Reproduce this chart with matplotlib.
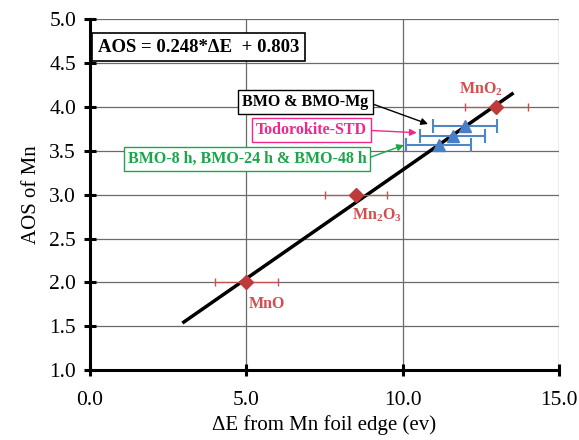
import matplotlib
matplotlib.use("Agg")
import matplotlib.pyplot as plt
import numpy as np

# Reference oxides
std_names = ["MnO", "Mn$_2$O$_3$", "MnO$_2$"]
std_dE = [5.0, 8.5, 13.0]
std_aos = [2.0, 3.0, 4.0]
std_xerr = [1.0, 1.0, 1.0]

# Samples (triangles)
smp_dE = [11.15, 11.6, 12.0]
smp_aos = [3.57, 3.67, 3.79]
smp_xerr = [1.03, 1.03, 1.03]

# Fit line
slope = 0.248
intercept = 0.803
fit_x = [3.0, 13.5]

xticks = [0.0, 5.0, 10.0, 15.0]
yticks = [1.0, 1.5, 2.0, 2.5, 3.0, 3.5, 4.0, 4.5, 5.0]

plt.rcParams['font.family'] = ['Liberation Serif', 'DejaVu Serif']
plt.rcParams['mathtext.fontset'] = 'custom'
plt.rcParams['mathtext.rm'] = 'Liberation Serif:bold'
plt.rcParams['mathtext.it'] = 'Liberation Serif:bold'
plt.rcParams['mathtext.bf'] = 'Liberation Serif:bold'

fig = plt.figure(figsize=(5.79, 4.40), dpi=100)
ax = fig.add_axes([90 / 579, 1 - 370 / 440, 469 / 579, 350.5 / 440])

ax.set_xlim(0, 15)
ax.set_ylim(1, 5)
ax.set_xticks(xticks)
ax.set_yticks(yticks)
ax.set_xticklabels([f"{v:.1f}" for v in xticks])
ax.set_yticklabels([f"{v:.1f}" for v in yticks])
ax.grid(True, color='#6a6a6a', lw=0.9)
ax.set_axisbelow(True)
for s in ['top', 'right']:
    ax.spines[s].set_visible(False)
for s in ['left', 'bottom']:
    ax.spines[s].set_linewidth(2.2)
    ax.spines[s].set_zorder(6)
ax.tick_params(direction='inout', length=8, width=2.2, labelsize=15.5)
ax.tick_params(axis='x', pad=11)
ax.tick_params(axis='y', pad=6)

fx = np.array(fit_x)
ax.plot(fx, slope * fx + intercept, color='black', lw=2.5, zorder=3)

red = '#C0393B'
ax.errorbar(std_dE, std_aos, xerr=std_xerr, fmt='D', color=red, ms=7,
            ecolor='#C8504F', elinewidth=0.9, capsize=3, zorder=4)
blue = '#4A7EC8'
ax.errorbar(smp_dE, smp_aos, xerr=smp_xerr, fmt='^', color=blue, ms=9,
            ecolor='#4F86C6', elinewidth=1.5, capsize=5, capthick=1.5, zorder=4)

lab_col = '#D0504F'
ax.text(5.08, 1.75, std_names[0], color=lab_col, fontsize=11.5, fontweight='bold',
        ha='left', va='center')
ax.text(8.38, 2.77, std_names[1], color=lab_col, fontsize=11.5, fontweight='bold',
        ha='left', va='center')
ax.text(11.81, 4.20, std_names[2], color=lab_col, fontsize=11.5, fontweight='bold',
        ha='left', va='center')

ax.set_xlabel("ΔE from Mn foil edge (ev)", fontsize=15, labelpad=4)
ax.set_ylabel("AOS of Mn", fontsize=15, labelpad=6)

# equation box
ax.text(0.25, 4.686, "AOS = 0.248*ΔE  + 0.803", fontsize=13.5, fontweight='bold',
        ha='left', va='center', zorder=5,
        bbox=dict(boxstyle='square,pad=0.3', fc='white', ec='black', lw=1.2))

ax.annotate("BMO & BMO-Mg", xy=(10.81, 3.807), xytext=(6.89, 4.053),
            fontsize=11.5, fontweight='bold', color='black', ha='center', va='center',
            bbox=dict(boxstyle='square,pad=0.25', fc='white', ec='black', lw=1.0),
            arrowprops=dict(arrowstyle='-|>', color='black', lw=1.0, relpos=(1, 0.5),
                            shrinkA=0, shrinkB=0, mutation_scale=10), zorder=5)
ax.annotate("Todorokite-STD", xy=(10.45, 3.708), xytext=(7.09, 3.736),
            fontsize=11.5, fontweight='bold', color='#F0288C', ha='center', va='center',
            bbox=dict(boxstyle='square,pad=0.25', fc='white', ec='#F0288C', lw=1.0),
            arrowprops=dict(arrowstyle='-|>', color='#F0288C', lw=1.0, relpos=(1, 0.5),
                            shrinkA=0, shrinkB=0, mutation_scale=10), zorder=5)
ax.annotate("BMO-8 h, BMO-24 h & BMO-48 h", xy=(10.04, 3.567), xytext=(5.02, 3.411),
            fontsize=11.5, fontweight='bold', color='#1AA64A', ha='center', va='center',
            bbox=dict(boxstyle='square,pad=0.25', fc='white', ec='#1AA64A', lw=1.0),
            arrowprops=dict(arrowstyle='-|>', color='#1AA64A', lw=1.0, relpos=(1, 0.5),
                            shrinkA=0, shrinkB=0, mutation_scale=10), zorder=5)

fig.savefig("out.png", dpi=100)
